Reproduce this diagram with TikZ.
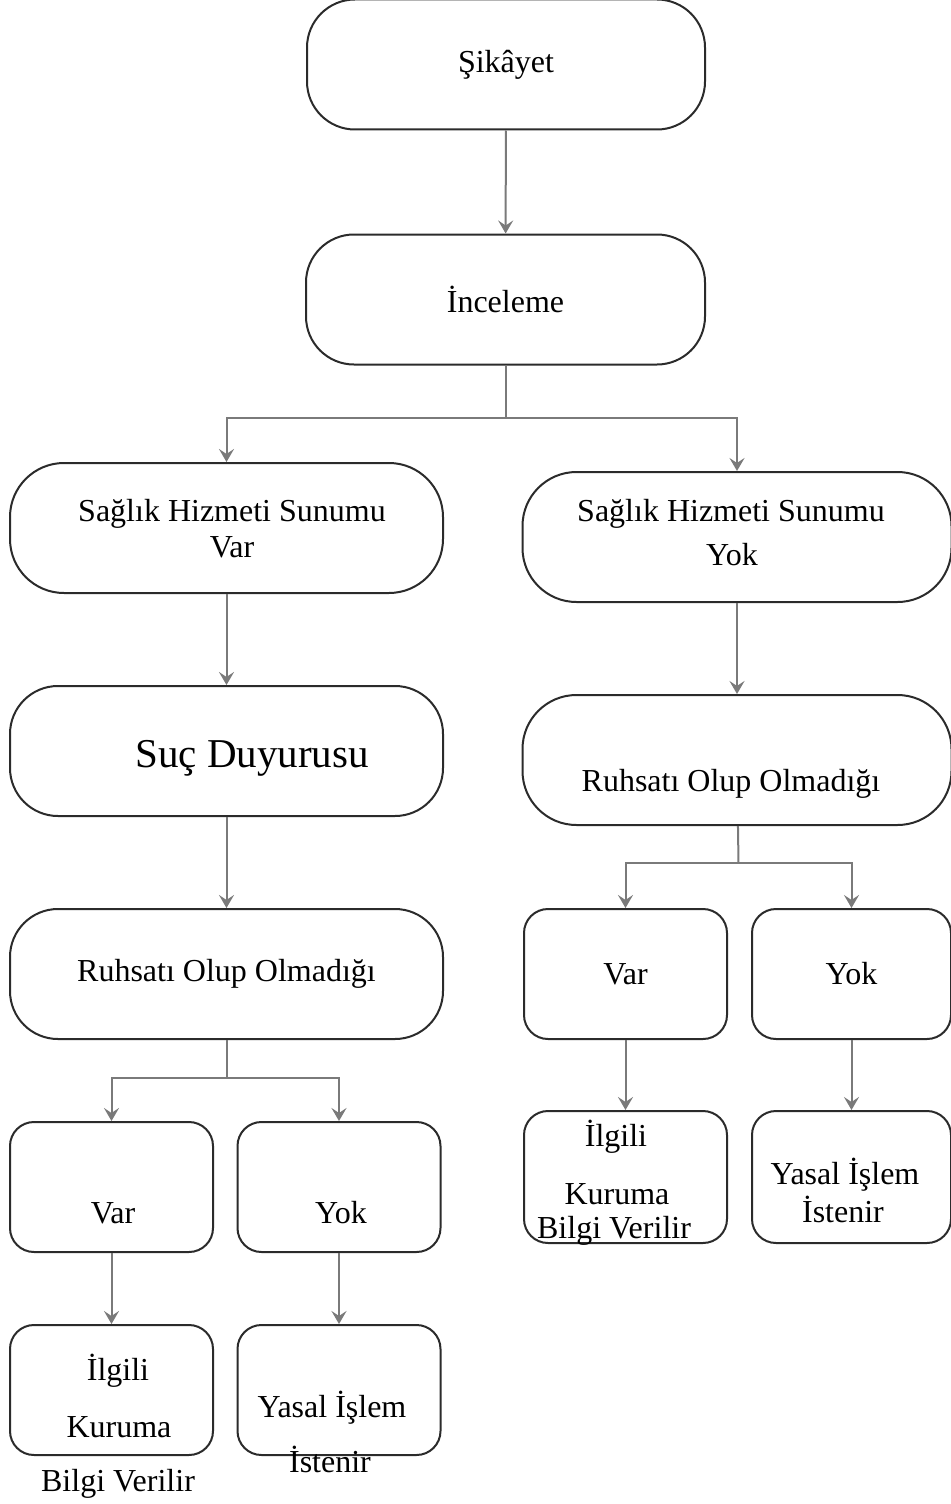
\documentclass[tikz,border=0pt]{standalone}
\usepackage{fontspec}
\setmainfont{Liberation Serif}
\usetikzlibrary{arrows.meta,positioning}
\definecolor{boxline}{HTML}{2B2B2B}
\definecolor{linkgray}{HTML}{7A7A7A}

\begin{document}
\begin{tikzpicture}[
  x=0.5pt, y=-0.5pt,
  font=\fontsize{16}{19}\selectfont,
  wide/.style  = {draw=boxline, line width=1pt, rounded corners=24pt, inner sep=0pt,
                  minimum width=216.5pt, minimum height=65pt, align=center},
  pill/.style  = {wide, rounded corners=27pt},
  small/.style = {draw=boxline, line width=1pt, rounded corners=12pt, inner sep=0pt,
                  minimum width=101.5pt, minimum height=65pt, align=center},
  txt/.style   = {inner sep=0pt, text height=11pt, text depth=3pt},
  ln/.style    = {draw=linkgray, line width=1pt},
  arr/.style   = {ln, -{Stealth[length=6.5pt, width=7.5pt, inset=2.5pt]}},
]
\useasboundingbox (0,0) rectangle (951,1504);

% --- top: complaint and review ---------------------------------------------------------
\node[wide, minimum width=199pt] (sik) at (506,64.5)  {Şikâyet};
\node[wide, minimum width=199.5pt] (inc) at (505.5,299.5) {İnceleme};
\draw[arr] (sik) -- (inc);

% --- first split ----------------------------------------------------------------------
\node[pill] (shv) at (226.5,528) {};
\node[pill, minimum width=214.5pt] (shy) at (737,537) {};
\node[txt] (shv1) at (232,513) {Sağlık Hizmeti Sunumu};
\node[txt] (shv2) at (232,549) {Var};
\node[txt] (shy1) at (731,513) {Sağlık Hizmeti Sunumu};
\node[txt] (shy2) at (732,557) {Yok};

\coordinate (s1) at (505.5,418);
\draw[ln] (inc) -- (s1);
\draw[arr] (s1) -| (shv);
\draw[arr] (s1) -| (shy);

% --- left column ----------------------------------------------------------------------
\node[wide] (suc) at (226.5,751) {};
\node[txt, font=\fontsize{20.5}{24}\selectfont, text height=14pt, text depth=4pt]
  (suct) at (252,757) {Suç Duyurusu};
\node[wide] (rul) at (226.5,974) {Ruhsatı Olup Olmadığı};
\draw[arr] (shv) -- (suc);
\draw[arr] (suc) -- (rul);

\node[small] (varl) at (111.5,1187) {};
\node[small] (yokl) at (339,1187) {};
\node[txt] (varlt) at (113,1215) {Var};
\node[txt] (yoklt) at (341,1215) {Yok};

\coordinate (s2) at (226.5,1078);
\draw[ln] (rul) -- (s2);
\draw[arr] (s2) -| (varl);
\draw[arr] (s2) -| (yokl);

\node[small] (ilgl) at (111.5,1390) {};
\node[small] (yasl) at (339,1390) {};
\node[txt] (ilgl1) at (118,1372) {İlgili};
\node[txt] (ilgl2) at (119,1429) {Kuruma};
\node[txt] (ilgl3) at (118,1483) {Bilgi Verilir};
\node[txt] (yasl1) at (332,1409) {Yasal İşlem};
\node[txt] (yasl2) at (330,1464) {İstenir};
\draw[arr] (varl) -- (ilgl);
\draw[arr] (yokl) -- (yasl);

% --- right column ---------------------------------------------------------------------
\node[pill, minimum width=214.5pt] (rur) at (737,760) {};
\node[txt] (rurt) at (731,783) {Ruhsatı Olup Olmadığı};
\draw[arr] (shy) -- (rur);

\node[small] (varr) at (625.5,974) {Var};
\node[small, minimum width=99.5pt] (yokr) at (851.5,974) {Yok};

\coordinate (s3) at (738.5,863);
\draw[ln] (rur) -- (s3);
\draw[arr] (s3) -| (varr);
\draw[arr] (s3) -| (yokr);

\node[small, minimum height=66pt] (ilgr) at (625.5,1177) {};
\node[small, minimum width=99.5pt, minimum height=66pt] (yasr) at (851.5,1177) {};
\node[txt] (ilgr1) at (616,1138) {İlgili};
\node[txt] (ilgr2) at (617,1196) {Kuruma};
\node[txt] (ilgr3) at (614,1230) {Bilgi Verilir};
\node[txt] (yasr1) at (845,1176) {Yasal İşlem};
\node[txt] (yasr2) at (843,1214) {İstenir};
\draw[arr] (varr) -- (ilgr);
\draw[arr] (yokr) -- (yasr);

\end{tikzpicture}
\end{document}
